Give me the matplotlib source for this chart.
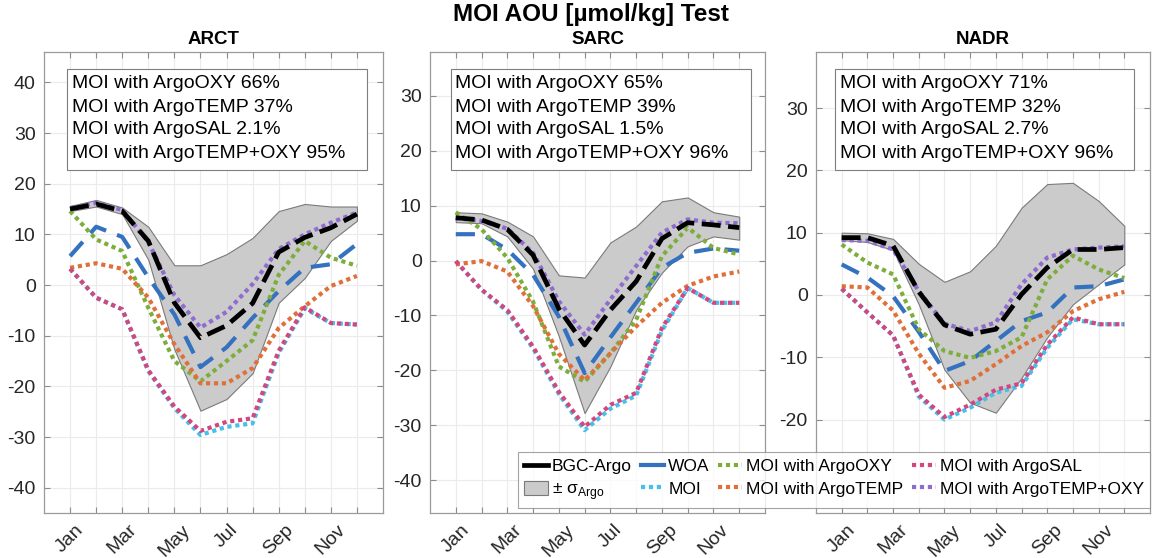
import matplotlib
matplotlib.use("Agg")
import matplotlib.pyplot as plt
from matplotlib.lines import Line2D
from matplotlib.patches import Patch, Rectangle

plt.rcParams['font.family'] = ['Liberation Sans', 'DejaVu Sans']
plt.rcParams['mathtext.fontset'] = 'custom'
plt.rcParams['mathtext.rm'] = 'Liberation Sans'

months = ['Jan', 'Feb', 'Mar', 'Apr', 'May', 'Jun', 'Jul', 'Aug', 'Sep', 'Oct', 'Nov', 'Dec']
month_idx = list(range(1, 13))
tick_labels = [m if i % 2 == 0 else '' for i, m in enumerate(months)]

regions = ['ARCT', 'SARC', 'NADR']

# ARCT
arct_bgc = [15.0, 16.0, 14.6, 8.7, -3.5, -10.4, -8.0, -3.6, 6.5, 9.4, 11.3, 14.0]
arct_upper = [15.6, 16.8, 15.3, 11.5, 3.9, 3.9, 6.1, 9.3, 14.6, 16.0, 15.5, 15.5]
arct_lower = [14.6, 15.5, 14.0, 5.0, -12.7, -24.8, -22.5, -17.4, -3.5, 1.4, 8.7, 12.7]
arct_woa = [5.7, 11.5, 9.5, 1.5, -5.8, -16.2, -12.3, -6.5, -1.2, 3.4, 4.1, 8.1]
arct_oxy = [14.6, 9.0, 6.7, -4.5, -15.0, -19.0, -15.0, -10.9, 2.0, 8.7, 5.4, 3.8]
arct_temp = [3.4, 4.3, 3.2, -2.5, -11.7, -19.4, -19.4, -16.4, -8.5, -4.2, -0.2, 1.8]
arct_moi = [3.2, -2.5, -4.8, -17.0, -24.3, -29.6, -28.0, -27.3, -13.4, -4.6, -7.5, -7.8]
arct_sal = [3.2, -2.5, -4.8, -16.8, -24.0, -28.8, -27.0, -26.3, -13.0, -4.4, -7.5, -7.8]
arct_to = [15.2, 16.2, 14.8, 8.5, -2.0, -8.4, -5.3, 0.2, 7.1, 10.0, 12.3, 14.3]

# SARC
sarc_bgc = [7.8, 7.4, 5.7, 1.0, -8.8, -15.4, -9.0, -3.8, 4.0, 6.9, 6.5, 6.0]
sarc_upper = [8.8, 8.6, 7.1, 4.4, -2.7, -3.1, 3.3, 6.2, 10.8, 11.5, 8.8, 8.0]
sarc_lower = [7.0, 6.8, 4.4, -1.5, -13.8, -27.8, -19.3, -9.0, -2.2, 2.6, 4.4, 3.8]
sarc_woa = [4.8, 4.8, 2.0, -2.6, -10.2, -20.5, -14.0, -7.7, -1.3, 1.4, 2.2, 1.8]
sarc_oxy = [8.8, 5.7, 0.5, -7.5, -19.3, -22.1, -16.9, -10.8, 0.8, 6.0, 2.3, 1.1]
sarc_temp = [-0.7, -0.1, -2.0, -8.3, -17.0, -21.8, -16.9, -12.0, -7.7, -4.6, -2.9, -2.0]
sarc_moi = [-0.1, -5.3, -9.3, -16.0, -24.3, -30.9, -27.0, -24.6, -12.8, -5.0, -7.7, -7.7]
sarc_sal = [-0.1, -5.3, -9.0, -15.7, -23.9, -30.3, -26.3, -24.1, -12.3, -5.0, -7.7, -7.7]
sarc_to = [7.7, 7.2, 5.8, 1.4, -7.4, -13.5, -7.1, -1.0, 5.1, 7.5, 6.9, 6.8]

# NADR
nadr_bgc = [9.2, 9.2, 7.9, 0.5, -4.8, -6.3, -5.5, 0.1, 4.4, 7.3, 7.3, 7.6]
nadr_upper = [10.0, 9.9, 9.0, 5.0, 2.1, 3.8, 7.9, 14.0, 17.8, 18.0, 15.1, 11.1]
nadr_lower = [8.8, 8.5, 7.2, -1.5, -12.0, -17.3, -18.9, -13.3, -6.8, -1.5, 1.7, 4.9]
nadr_woa = [4.9, 2.8, -0.2, -5.9, -12.2, -10.6, -7.4, -4.2, -2.8, 1.2, 1.4, 2.5]
nadr_oxy = [8.1, 5.2, 3.3, -5.5, -9.0, -10.1, -9.0, -6.8, 2.5, 6.3, 4.1, 2.7]
nadr_temp = [1.4, 1.2, -2.5, -9.4, -14.9, -13.8, -11.1, -8.2, -6.0, -2.6, -0.7, 0.5]
nadr_moi = [1.0, -2.8, -6.5, -16.3, -20.0, -18.1, -15.7, -14.6, -8.5, -3.9, -4.7, -4.7]
nadr_sal = [1.0, -2.8, -6.5, -16.0, -19.6, -17.6, -15.2, -14.2, -8.0, -3.6, -4.7, -4.7]
nadr_to = [8.8, 8.7, 7.3, 0.6, -4.6, -5.8, -4.4, 1.7, 6.0, 7.3, 7.6, 7.8]

pct_oxy = ['66%', '65%', '71%']
pct_temp = ['37%', '39%', '32%']
pct_sal = ['2.1%', '1.5%', '2.7%']
pct_to = ['95%', '96%', '96%']

ylims = [(-45, 46), (-46, 38), (-35, 39)]
yticks = [list(range(-40, 41, 10)), list(range(-40, 31, 10)), list(range(-20, 31, 10))]

data = {
    'ARCT': (arct_bgc, arct_upper, arct_lower, arct_woa, arct_oxy, arct_temp, arct_moi, arct_sal, arct_to),
    'SARC': (sarc_bgc, sarc_upper, sarc_lower, sarc_woa, sarc_oxy, sarc_temp, sarc_moi, sarc_sal, sarc_to),
    'NADR': (nadr_bgc, nadr_upper, nadr_lower, nadr_woa, nadr_oxy, nadr_temp, nadr_moi, nadr_sal, nadr_to),
}

c_black = '#000000'
c_blue = '#3471BE'
c_green = '#7DAE3C'
c_orange = '#E0703A'
c_mag = '#D2477F'
c_purple = '#8F6CD0'
c_cyan = '#45C0EA'
c_fill = '#CBCBCB'
c_fill_edge = '#7A7A7A'

LW = 3.0
ls_black = (0, (4.0, 1.6))
ls_blue = (0, (4.6, 2.8))
ls_dot = (0, (1.0, 0.9))

W, H = 1152, 558
fig = plt.figure(figsize=(W / 100, H / 100), dpi=100)

def px_rect(l, t, r, b):
    return [l / W, 1 - b / H, (r - l) / W, (b - t) / H]

ax_px = [(44, 52, 383, 513), (430, 52, 765, 513), (816, 52, 1150, 513)]
box_px = [(67, 69, 367, 170), (451, 69, 751, 170), (835, 69, 1134, 170)]
text_x = [72, 455, 840]
text_rows = [83, 107, 130, 153]

for k, reg in enumerate(regions):
    bgc, up, lo, woa, oxy, temp, moi, sal, to = data[reg]
    ax = fig.add_axes(px_rect(*ax_px[k]))
    ax.fill_between(month_idx, lo, up, facecolor=c_fill, edgecolor=c_fill_edge, linewidth=0.8, zorder=2)
    ax.plot(month_idx, woa, color=c_blue, lw=LW, ls=ls_blue, dash_capstyle='butt', zorder=3)
    ax.plot(month_idx, moi, color=c_cyan, lw=LW, ls=ls_dot, dash_capstyle='butt', zorder=3)
    ax.plot(month_idx, oxy, color=c_green, lw=LW, ls=ls_dot, dash_capstyle='butt', zorder=3)
    ax.plot(month_idx, temp, color=c_orange, lw=LW, ls=ls_dot, dash_capstyle='butt', zorder=3)
    ax.plot(month_idx, sal, color=c_mag, lw=LW, ls=ls_dot, dash_capstyle='butt', zorder=4)
    ax.plot(month_idx, to, color=c_purple, lw=LW, ls=ls_dot, dash_capstyle='butt', zorder=4)
    ax.plot(month_idx, bgc, color=c_black, lw=LW + 0.4, ls=ls_black, dash_capstyle='butt', zorder=5)

    ax.set_xlim(0, 13)
    ax.set_ylim(*ylims[k])
    ax.set_xticks(month_idx)
    ax.set_xticklabels(tick_labels, rotation=45, ha='center', fontsize=14, color='#262626')
    ax.set_yticks(yticks[k])
    ax.set_yticklabels([str(v) for v in yticks[k]], fontsize=14, color='#262626')
    ax.tick_params(direction='in', length=4, width=0.8, color='#8C8C8C', top=True, right=True, pad=6)
    ax.grid(True, color='#EBEBEB', lw=0.8, zorder=0)
    ax.set_axisbelow(True)
    for s in ax.spines.values():
        s.set_color('#9A9A9A')
        s.set_linewidth(0.9)
    ax.set_title(reg, fontsize=13.5, fontweight='bold', pad=6)

    l, t, r, b = box_px[k]
    fig.patches.append(Rectangle((l / W, 1 - b / H), (r - l) / W, (b - t) / H,
                                 transform=fig.transFigure, facecolor='white',
                                 edgecolor='#7F7F7F', linewidth=0.8, zorder=10))
    lines = ['MOI with ArgoOXY ' + pct_oxy[k], 'MOI with ArgoTEMP ' + pct_temp[k],
             'MOI with ArgoSAL ' + pct_sal[k], 'MOI with ArgoTEMP+OXY ' + pct_to[k]]
    for j, s in enumerate(lines):
        fig.text(text_x[k] / W, 1 - text_rows[j] / H, s, fontsize=14, va='center', ha='left', zorder=11)

fig.text(591 / W, 1 - 14 / H, 'MOI AOU [µmol/kg] Test', fontsize=17.5, fontweight='bold', ha='center', va='center')

handles = [
    Line2D([], [], color=c_black, lw=LW + 0.4),
    Patch(facecolor=c_fill, edgecolor=c_fill_edge, linewidth=0.8),
    Line2D([], [], color=c_blue, lw=LW),
    Line2D([], [], color=c_cyan, lw=LW, ls=ls_dot),
    Line2D([], [], color=c_green, lw=LW, ls=ls_dot),
    Line2D([], [], color=c_orange, lw=LW, ls=ls_dot),
    Line2D([], [], color=c_mag, lw=LW, ls=ls_dot),
    Line2D([], [], color=c_purple, lw=LW, ls=ls_dot),
]
labels = ['BGC-Argo', '± σ$_{\\mathrm{Argo}}$', 'WOA', 'MOI', 'MOI with ArgoOXY',
          'MOI with ArgoTEMP', 'MOI with ArgoSAL', 'MOI with ArgoTEMP+OXY']
leg = fig.legend(handles, labels, ncol=4, loc='upper left', bbox_to_anchor=(518 / W, 1 - 452 / H),
                 fontsize=12.5, frameon=True, fancybox=False, edgecolor='#8C8C8C',
                 handlelength=1.35, handleheight=0.85, handletextpad=0.25, columnspacing=0.5,
                 labelspacing=0.4, borderpad=0.35, borderaxespad=0.0)
leg.get_frame().set_linewidth(0.8)
leg.set_zorder(20)

fig.savefig('out.png', dpi=100)
